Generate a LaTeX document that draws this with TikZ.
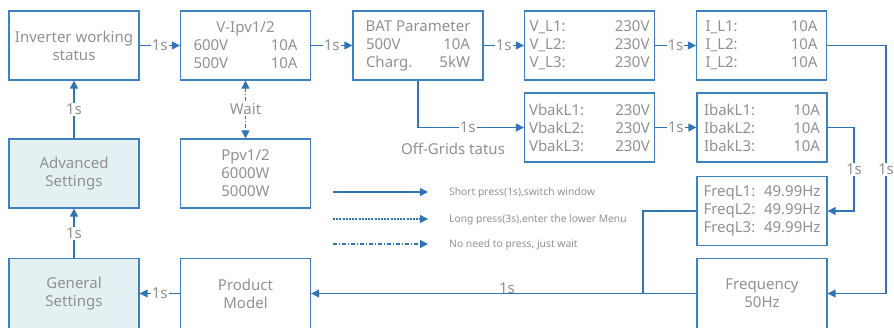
\documentclass[tikz,border=0pt]{standalone}
\usepackage{fontspec}
\setmainfont{Noto Sans}
\usetikzlibrary{arrows.meta}
\definecolor{lineblue}{RGB}{46,117,182}
\definecolor{boxblue}{RGB}{62,128,192}
\definecolor{txtgray}{RGB}{145,145,145}
\definecolor{setfill}{RGB}{228,241,243}
\newcommand{\tcol}[3]{\hbox to #1{#2\hfill #3}}
\begin{document}
\begin{tikzpicture}[x=1pt,y=-1pt,
  box/.style={draw=boxblue, line width=1.3pt, minimum width=130pt, minimum height=69pt,
    inner sep=0pt, text=txtgray, font=\fontsize{15}{18}\selectfont, align=center},
  lowbox/.style={box, minimum height=70pt},
  setbox/.style={fill=setfill},
  wire/.style={draw=lineblue, line width=1.4pt},
  conn/.style={wire, -{Triangle[length=8pt,width=8pt]}},
  lbl/.style={fill=white, text=txtgray, font=\fontsize{15}{18}\selectfont, inner sep=1pt},
  legtxt/.style={text=txtgray, font=\fontsize{10.3}{12}\selectfont, anchor=base west, inner sep=0pt},
  longdash/.style={dash pattern=on 2pt off 1.2pt},
  waitdash/.style={dash pattern=on 4pt off 2pt on 1pt off 2pt},
]
\useasboundingbox (0,0) rectangle (894,327);

% top row
\node[box] (inv) at (74,45.5) {Inverter working\\status};
\node[box] (vipv) at (245.5,45.5) {V-Ipv1/2\\\tcol{104pt}{600V}{10A}\\\tcol{104pt}{500V}{10A}};
\node[box] (bat) at (418,45.5) {BAT Parameter\\\tcol{104pt}{500V}{10A}\\\tcol{104pt}{Charg.}{5kW}};
\node[box] (vl) at (589.5,45.5) {\tcol{120pt}{V\_L1:}{230V}\\\tcol{120pt}{V\_L2:}{230V}\\\tcol{120pt}{V\_L3:}{230V}};
\node[box] (il) at (761.5,45.5) {\tcol{112pt}{I\_L1:}{10A}\\\tcol{112pt}{I\_L2:}{10A}\\\tcol{112pt}{I\_L2:}{10A}};

% middle rows
\node[box] (vbak) at (589.5,127.5) {\tcol{121pt}{VbakL1:}{230V}\\\tcol{121pt}{VbakL2:}{230V}\\\tcol{121pt}{VbakL3:}{230V}};
\node[box] (ibak) at (762,127.5) {\tcol{116pt}{IbakL1:}{10A}\\\tcol{116pt}{IbakL2:}{10A}\\\tcol{116pt}{IbakL3:}{10A}};
\node[box] (fq) at (762,211) {\tcol{117pt}{FreqL1:}{49.99Hz}\\\tcol{117pt}{FreqL2:}{49.99Hz}\\\tcol{117pt}{FreqL3:}{49.99Hz}};
\node[box,setbox] (adv) at (74,173.5) {Advanced\\Settings};
\node[box] (ppv) at (245.5,173.5) {Ppv1/2\\6000W\\5000W};

% bottom row
\node[lowbox,setbox] (gen) at (74,293.5) {General\\Settings};
\node[lowbox] (pm) at (245.5,293.5) {Product\\Model};
\node[lowbox] (f50) at (762,293.5) {Frequency\\50Hz};

\node[text=txtgray, font=\fontsize{15}{18}\selectfont, inner sep=0pt] (offg) at (453,148.5) {Off-Grids tatus};

% connectors
\draw[conn] (inv.east) -- node[lbl]{1s} (vipv.west);
\draw[conn] (vipv.east) -- node[lbl]{1s} (bat.west);
\draw[conn] (bat.east) -- node[lbl]{1s} (vl.west);
\draw[conn] (vl.east) -- node[lbl]{1s} (il.west);
\coordinate (r1) at (886,45.5);
\draw[conn] (il.east) -- (r1) -- node[lbl]{1s} (r1 |- f50.east) -- (f50.east);
\draw[conn] (bat.south) -- (bat.south |- vbak.west) -- node[lbl,pos=0.47]{1s} (vbak.west);
\draw[conn] (vbak.east) -- node[lbl]{1s} (ibak.west);
\coordinate (r2) at (854,127.5);
\draw[conn] (ibak.east) -- (r2) -- node[lbl]{1s} (r2 |- fq.east) -- (fq.east);
\coordinate (jn) at (643,293.5);
\draw[wire] (fq.west) -| (jn);
\draw[conn] (f50.west) -- (pm.east);
\node[text=txtgray, font=\fontsize{15}{18}\selectfont, inner sep=0pt, anchor=south] (lb1s) at (507,294) {1s};
\draw[conn] (pm.west) -- node[lbl]{1s} (gen.east);
\draw[conn] (gen.north) -- node[lbl]{1s} (adv.south);
\draw[conn] (adv.north) -- node[lbl]{1s} (inv.south);
\draw[wire, waitdash, {Triangle[length=8pt,width=8pt]}-{Triangle[length=8pt,width=8pt]}] (vipv.south) -- node[lbl]{Wait} (ppv.north);

% legend
\coordinate (la1) at (333,192); \coordinate (lb1) at (428,192);
\coordinate (la2) at (333,219); \coordinate (lb2) at (428,219);
\coordinate (la3) at (333,244); \coordinate (lb3) at (428,244);
\draw[conn, line width=1.2pt] (la1) -- (lb1);
\draw[conn, line width=1.2pt, longdash] (la2) -- (lb2);
\draw[conn, line width=1.2pt, waitdash] (la3) -- (lb3);
\node[legtxt] (t1) at (449,195.5) {Short press(1s),switch window};
\node[legtxt] (t2) at (449,222.5) {Long press(3s),enter the lower Menu};
\node[legtxt] (t3) at (449,247.5) {No need to press, just wait};
\end{tikzpicture}
\end{document}
